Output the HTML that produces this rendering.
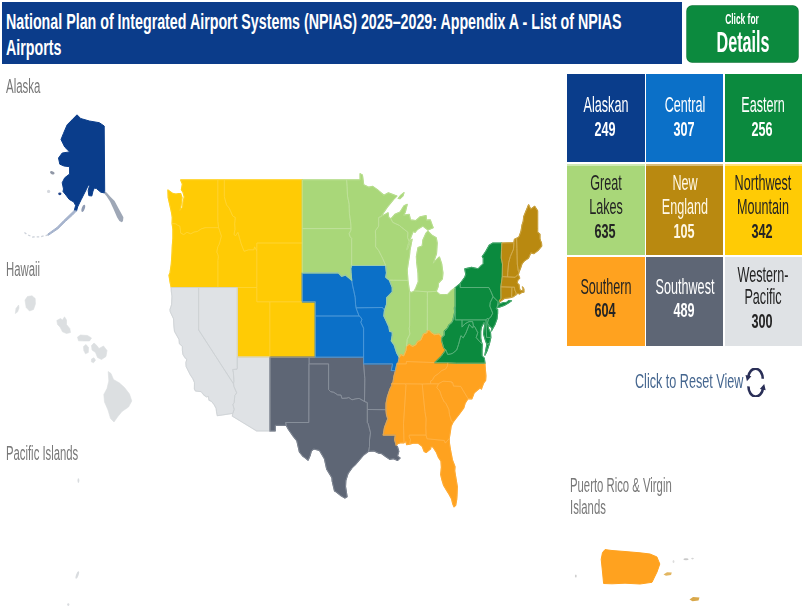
<!DOCTYPE html>
<html lang="en">
<head>
<meta charset="utf-8">
<title>NPIAS 2025-2029 Appendix A - List of NPIAS Airports</title>
<style>
  html, body { margin:0; padding:0; }
  body { width:802px; height:607px; overflow:hidden; background:#ffffff; position:relative;
         font-family:"Liberation Sans", sans-serif; }
  #clip { position:absolute; left:0; top:0; width:802px; height:607px; overflow:hidden; background:#ffffff; }
  #stage { position:absolute; left:0; top:0; width:802px; height:607px; filter:blur(0.5px); }
  .abs { position:absolute; }
  .tx { position:absolute; white-space:nowrap; line-height:1; }
  .tl { transform-origin:0 0; }
  .tc { transform-origin:50% 0; text-align:center; }
  #hdr { left:2px; top:2px; width:680px; height:62px; background:#0b3c8a; }
  #btn { left:686.6px; top:5.6px; width:111.8px; height:56.8px; background:#0c8a3e; border-radius:5px;
         box-shadow:0 0 0 0.7px #0a7534; }
</style>
</head>
<body>
<div id="clip">
<div id="stage">
  <div id="hdr" class="abs"></div>
  <div class="tx tl" style="left:6.4px; top:9.9px; font-size:22.8px; font-weight:bold; color:#ffffff; transform:scaleX(0.625);">National Plan of Integrated Airport Systems (NPIAS) 2025–2029: Appendix A - List of NPIAS</div>
  <div class="tx tl" style="left:6.4px; top:36.4px; font-size:22.8px; font-weight:bold; color:#ffffff; transform:scaleX(0.625);">Airports</div>
  <div id="btn" class="abs"></div>
  <div class="tx tc" style="left:592.0px; width:300px; top:11.5px; font-size:14.7px; font-weight:bold; color:#ffffff; transform:scaleX(0.573);">Click for</div>
  <div class="tx tc" style="left:593.0px; width:300px; top:27.1px; font-size:30.2px; font-weight:bold; color:#ffffff; transform:scaleX(0.535);">Details</div>
  <div class="tx tl" style="left:6.3px; top:75.6px; font-size:20px; font-weight:normal; color:#787878; transform:scaleX(0.572);">Alaska</div>
  <div class="tx tl" style="left:6.3px; top:259.3px; font-size:20px; font-weight:normal; color:#787878; transform:scaleX(0.567);">Hawaii</div>
  <div class="tx tl" style="left:6.3px; top:442.8px; font-size:20px; font-weight:normal; color:#787878; transform:scaleX(0.565);">Pacific Islands</div>
  <div class="tx tl" style="left:570.2px; top:475.4px; font-size:20px; font-weight:normal; color:#787878; transform:scaleX(0.566);">Puerto Rico &amp; Virgin</div>
  <div class="tx tl" style="left:570.2px; top:496.6px; font-size:20px; font-weight:normal; color:#787878; transform:scaleX(0.566);">Islands</div>
  <div class="abs" style="left:567.0px; top:74.0px; width:78.0px; height:88.4px; background-color:#0a3d8b;"></div>
  <div class="tx tc" style="left:456.0px; width:300px; top:93.7px; font-size:21.9px; font-weight:normal; color:#ffffff; transform:scaleX(0.576);">Alaskan</div>
  <div class="tx tc" style="left:455.0px; width:300px; top:118.7px; font-size:20.6px; font-weight:bold; color:#ffffff; transform:scaleX(0.614);">249</div>
  <div class="abs" style="left:646.2px; top:74.0px; width:77.2px; height:88.4px; background-color:#0b70c8;"></div>
  <div class="tx tc" style="left:534.8px; width:300px; top:93.7px; font-size:21.9px; font-weight:normal; color:#ffffff; transform:scaleX(0.576);">Central</div>
  <div class="tx tc" style="left:533.8px; width:300px; top:118.7px; font-size:20.6px; font-weight:bold; color:#ffffff; transform:scaleX(0.614);">307</div>
  <div class="abs" style="left:724.6px; top:74.0px; width:83.4px; height:88.4px; background-color:#0b8a3e;"></div>
  <div class="tx tc" style="left:613.3px; width:300px; top:93.7px; font-size:21.9px; font-weight:normal; color:#ffffff; transform:scaleX(0.576);">Eastern</div>
  <div class="tx tc" style="left:612.3px; width:300px; top:118.7px; font-size:20.6px; font-weight:bold; color:#ffffff; transform:scaleX(0.614);">256</div>
  <div class="abs" style="left:567.0px; top:163.8px; width:78.0px; height:91.4px; background-color:#a9d779; background-image:linear-gradient(rgba(255,255,255,.45),rgba(255,255,255,.45)); background-size:100% 2.4px; background-repeat:no-repeat;"></div>
  <div class="tx tc" style="left:456.0px; width:300px; top:172.4px; font-size:21.9px; font-weight:normal; color:#242424; transform:scaleX(0.576);">Great</div>
  <div class="tx tc" style="left:456.0px; width:300px; top:196.4px; font-size:21.9px; font-weight:normal; color:#242424; transform:scaleX(0.576);">Lakes</div>
  <div class="tx tc" style="left:455.0px; width:300px; top:221.4px; font-size:20.6px; font-weight:bold; color:#242424; transform:scaleX(0.614);">635</div>
  <div class="abs" style="left:646.2px; top:163.8px; width:77.2px; height:91.4px; background-color:#b98910; background-image:linear-gradient(rgba(255,255,255,.45),rgba(255,255,255,.45)); background-size:100% 2.4px; background-repeat:no-repeat;"></div>
  <div class="tx tc" style="left:534.8px; width:300px; top:172.4px; font-size:21.9px; font-weight:normal; color:#fff8e6; transform:scaleX(0.576);">New</div>
  <div class="tx tc" style="left:534.8px; width:300px; top:196.4px; font-size:21.9px; font-weight:normal; color:#fff8e6; transform:scaleX(0.576);">England</div>
  <div class="tx tc" style="left:533.8px; width:300px; top:221.4px; font-size:20.6px; font-weight:bold; color:#fff8e6; transform:scaleX(0.614);">105</div>
  <div class="abs" style="left:724.6px; top:163.8px; width:83.4px; height:91.4px; background-color:#ffcb05; background-image:linear-gradient(rgba(255,255,255,.45),rgba(255,255,255,.45)); background-size:100% 2.4px; background-repeat:no-repeat;"></div>
  <div class="tx tc" style="left:613.3px; width:300px; top:172.4px; font-size:21.9px; font-weight:normal; color:#242424; transform:scaleX(0.576);">Northwest</div>
  <div class="tx tc" style="left:613.3px; width:300px; top:196.4px; font-size:21.9px; font-weight:normal; color:#242424; transform:scaleX(0.576);">Mountain</div>
  <div class="tx tc" style="left:612.3px; width:300px; top:221.4px; font-size:20.6px; font-weight:bold; color:#242424; transform:scaleX(0.614);">342</div>
  <div class="abs" style="left:567.0px; top:256.6px; width:78.0px; height:89.4px; background-color:#ffa21f;"></div>
  <div class="tx tc" style="left:456.0px; width:300px; top:276.4px; font-size:21.9px; font-weight:normal; color:#242424; transform:scaleX(0.576);">Southern</div>
  <div class="tx tc" style="left:455.0px; width:300px; top:300.0px; font-size:20.6px; font-weight:bold; color:#242424; transform:scaleX(0.614);">604</div>
  <div class="abs" style="left:646.2px; top:256.6px; width:77.2px; height:89.4px; background-color:#5e6675;"></div>
  <div class="tx tc" style="left:534.8px; width:300px; top:276.4px; font-size:21.9px; font-weight:normal; color:#ffffff; transform:scaleX(0.576);">Southwest</div>
  <div class="tx tc" style="left:533.8px; width:300px; top:300.0px; font-size:20.6px; font-weight:bold; color:#ffffff; transform:scaleX(0.614);">489</div>
  <div class="abs" style="left:724.6px; top:256.6px; width:83.4px; height:89.4px; background-color:#dfe2e5;"></div>
  <div class="tx tc" style="left:613.3px; width:300px; top:263.9px; font-size:21.9px; font-weight:normal; color:#242424; transform:scaleX(0.576);">Western-</div>
  <div class="tx tc" style="left:613.3px; width:300px; top:285.8px; font-size:21.9px; font-weight:normal; color:#242424; transform:scaleX(0.576);">Pacific</div>
  <div class="tx tc" style="left:612.3px; width:300px; top:311.2px; font-size:20.6px; font-weight:bold; color:#242424; transform:scaleX(0.614);">300</div>
  <div class="tx tl" style="left:635.3px; top:371.0px; font-size:20.8px; font-weight:normal; color:#45668f; transform:scaleX(0.606);">Click to Reset View</div>
  <svg class="abs" style="left:745.1px; top:368.2px;" width="21.2" height="29.2" viewBox="0 0 24 34" preserveAspectRatio="none">
  <g fill="none" stroke="#2a2f57" stroke-width="2.9">
    <path d="M3.6 10.6 A8.3 11.6 0 0 1 20.1 12.6"/>
    <path d="M20.4 23.4 A8.3 11.6 0 0 1 3.9 21.4"/>
  </g>
  <path d="M0.6 8.2 L7.2 9.6 L2.2 15.4 Z" fill="#2a2f57"/>
  <path d="M23.4 25.8 L16.8 24.4 L21.8 18.6 Z" fill="#2a2f57"/>
</svg>
  <!-- map -->
  <svg class="abs" style="left:0; top:0;" width="802" height="607" viewBox="0 0 802 607">
<path d="M180.7,179.9L182.4,184.0L181.4,189.7L183.0,192.1L184.3,196.9L183.0,202.5L182.7,207.3L179.8,210.5L181.0,205.7L182.0,197.7L180.7,193.7L178.5,193.7L175.9,194.0L172.6,193.4L167.9,190.0L168.2,197.7L170.0,205.7L171.6,212.8L172.3,217.5L172.1,223.5L175.9,223.8L177.8,225.3L179.8,226.1L180.4,230.0L180.7,233.1L183.7,234.6L186.9,232.3L190.8,233.8L194.0,232.0L197.3,231.5L201.2,228.9L205.1,227.7L218.6,227.7L217.8,221.1L217.8,179.9Z M172.1,223.5L175.9,223.8L177.8,225.3L179.8,226.1L180.4,230.0L180.7,233.1L183.7,234.6L186.9,232.3L190.8,233.8L194.0,232.0L197.3,231.5L201.2,228.9L205.1,227.7L218.6,227.7L219.7,230.8L221.4,236.1L220.0,241.5L219.1,244.5L217.8,246.8L216.8,252.1L217.8,254.3L218.4,256.6L217.9,260.6L217.9,287.5L171.2,287.5L170.0,281.7L169.0,275.2L170.0,272.9L171.3,264.0L172.0,253.6L172.3,246.0L172.9,238.4L172.9,229.2Z M217.8,179.9L224.3,179.9L224.3,196.6L226.5,204.9L229.2,208.1L232.7,216.0L235.3,217.5L234.7,223.8L235.0,229.2L234.0,234.6L235.7,235.7L237.9,232.3L241.2,243.8L244.1,251.3L248.7,249.8L253.9,249.8L254.6,246.8L256.8,250.9L256.8,287.5L217.9,287.5L217.9,260.6L218.4,256.6L217.8,254.3L216.8,252.1L217.8,246.8L219.1,244.5L220.0,241.5L221.4,236.1L219.7,230.8L218.6,227.7L217.8,221.1Z M224.3,179.9L302.3,179.9L302.3,243.0L256.8,243.0L256.8,250.9L254.6,246.8L253.9,249.8L248.7,249.8L244.1,251.3L241.2,243.8L237.9,232.3L235.7,235.7L234.0,234.6L235.0,229.2L234.7,223.8L235.3,217.5L232.7,216.0L229.2,208.1L226.5,204.9L224.3,196.6Z M256.8,243.0L302.3,243.0L302.3,301.8L256.8,301.8Z M237.3,287.5L256.8,287.5L256.8,301.8L269.8,301.8L269.8,357.2L237.3,357.2Z M269.8,301.8L315.3,301.8L315.3,357.2L269.8,357.2Z" fill="#ffcb05" stroke="#ffcb05" stroke-width="1.2" stroke-linejoin="round"/>
<path d="M171.2,287.5L198.6,287.5L198.6,329.9L233.5,383.8L233.9,386.4L236.7,392.9L234.8,395.5L234.2,402.6L232.9,404.6L234.2,409.3L232.9,413.3L217.3,415.7L216.5,411.6L216.2,408.4L214.2,404.6L211.6,401.4L209.0,400.1L208.4,396.4L206.4,396.8L203.8,394.9L201.2,391.6L195.5,391.0L194.4,389.0L194.5,382.5L192.8,378.5L190.2,374.6L186.2,366.6L185.9,362.6L186.9,359.2L185.0,357.7L183.0,354.5L182.4,350.4L182.4,346.4L179.4,343.6L179.1,339.5L174.5,331.3L173.9,325.7L173.6,318.8L170.3,311.8L170.0,309.6L171.6,304.7L172.0,296.1L171.3,291.1Z M198.6,287.5L237.3,287.5L237.3,367.9L237.0,369.2L232.7,369.5L233.4,372.6L233.9,381.2L233.5,383.8L198.6,329.9Z M237.3,357.2L269.8,357.2L269.8,430.9L256.6,430.9L232.3,416.1L232.9,413.3L234.2,409.3L232.9,404.6L234.2,402.6L234.8,395.5L236.7,392.9L233.9,386.4L233.5,383.8L233.9,381.2L233.4,372.6L232.7,369.5L237.0,369.2L237.3,367.9Z" fill="#dfe2e5" stroke="#dfe2e5" stroke-width="1.2" stroke-linejoin="round"/>
<path d="M269.8,357.2L309.1,357.2L309.1,363.9L308.8,422.5L285.6,422.5L286.2,425.3L275.2,425.3L275.2,430.9L269.8,430.9Z M308.8,363.9L328.6,363.9L328.6,389.5L330.5,391.6L333.8,392.3L337.7,394.9L341.0,395.1L341.9,398.4L346.8,398.1L348.8,397.5L352.0,399.8L355.9,398.8L359.2,398.4L364.5,401.5L367.3,402.6L367.3,409.5L367.3,422.5L368.2,423.7L370.5,432.8L369.5,440.1L369.5,446.3L368.6,451.3L363.0,455.6L360.5,458.7L355.2,464.8L352.0,467.9L348.1,473.4L345.8,480.6L345.5,486.7L347.1,496.8L344.9,498.1L341.0,495.7L336.4,492.1L334.5,490.9L332.2,481.2L331.9,477.6L326.7,469.1L324.4,458.7L319.5,450.4L313.7,449.0L311.4,450.9L310.1,455.6L308.1,460.2L305.5,458.1L302.6,456.0L299.4,451.9L296.8,440.7L293.5,436.6L288.3,429.2L286.2,425.3L285.6,422.5L308.8,422.5Z M309.1,357.2L363.6,357.2L363.6,363.9L364.8,378.5L364.5,401.5L364.5,401.5L359.2,398.4L355.9,398.8L352.0,399.8L348.8,397.5L346.8,398.1L341.9,398.4L341.0,395.1L337.7,394.9L333.8,392.3L330.5,391.6L328.6,389.5L328.6,363.9L309.1,363.9Z M363.6,363.9L392.6,363.9L391.2,370.6L395.5,370.6L393.9,376.5L393.0,382.5L391.7,383.8L391.7,385.7L390.0,389.0L387.4,396.8L386.1,403.3L386.0,409.7L367.3,409.5L367.3,402.6L364.5,401.5L364.8,378.5Z M367.3,409.5L386.0,409.7L386.5,414.8L387.8,418.7L384.5,427.5L383.2,435.1L395.4,435.1L394.6,439.5L396.2,445.3L397.5,446.9L398.8,451.3L397.5,456.2L400.1,458.1L397.5,460.5L393.6,458.7L389.7,459.3L385.2,456.2L381.9,453.7L378.7,453.1L374.1,450.9L368.6,451.3L369.5,446.3L369.5,440.1L370.5,432.8L368.2,423.7L367.3,422.5Z" fill="#5e6675" stroke="#5e6675" stroke-width="1.2" stroke-linejoin="round"/>
<path d="M302.3,272.9L338.4,272.9L341.6,276.3L345.5,275.1L350.0,278.8L351.7,280.4L352.7,286.0L354.0,291.8L355.2,297.6L355.6,304.7L356.1,307.8L356.9,310.3L359.1,316.0L315.3,316.0L315.3,301.8L302.3,301.8Z M315.3,316.0L359.1,316.0L361.1,317.7L361.9,319.5L360.8,322.3L363.6,328.2L363.6,357.2L315.3,357.2Z M351.7,265.5L385.7,265.5L386.5,272.9L385.8,277.3L389.4,280.2L392.3,287.5L392.3,291.8L389.7,294.7L386.8,297.6L386.5,304.7L384.5,310.3L382.5,307.5L356.1,307.8L355.6,304.7L355.2,297.6L354.0,291.8L352.7,286.0L351.7,280.4L351.0,272.9L350.7,268.5Z M356.1,307.8L382.5,307.5L384.5,310.3L383.9,316.0L386.5,321.6L389.0,327.1L389.7,331.3L392.3,332.0L392.3,335.4L391.3,340.9L394.2,345.0L396.9,353.2L399.3,357.5L398.2,362.6L396.9,363.9L395.5,370.6L391.2,370.6L392.6,363.9L363.6,363.9L363.6,357.2L363.6,328.2L360.8,322.3L361.9,319.5L361.1,317.7L359.1,316.0L356.9,310.3Z" fill="#0b70c8" stroke="#0b70c8" stroke-width="1.2" stroke-linejoin="round"/>
<path d="M302.3,179.9L346.6,179.9L347.1,186.4L347.5,196.1L349.1,204.1L349.4,213.6L350.7,223.0L351.0,228.6L302.3,228.6Z M302.3,228.6L351.0,228.6L350.8,230.4L349.1,233.8L350.2,236.9L351.7,238.4L351.7,265.5L350.7,268.5L351.0,272.9L351.7,280.4L350.0,278.8L345.5,275.1L341.6,276.3L338.4,272.9L302.3,272.9Z M346.6,179.9L360.1,179.9L360.1,173.7L362.4,175.0L363.7,184.8L368.9,187.2L372.8,186.4L377.4,189.7L383.9,195.3L388.4,192.9L396.9,196.1L393.6,199.3L387.1,207.3L380.6,216.8L378.7,217.4L378.7,226.1L375.4,230.8L375.7,238.4L375.7,246.8L378.7,250.6L382.5,258.1L385.7,265.5L351.7,265.5L351.7,238.4L350.2,236.9L349.1,233.8L350.8,230.4L351.0,228.6L350.7,223.0L349.4,213.6L349.1,204.1L347.5,196.1L347.1,186.4Z M378.7,217.4L380.5,216.8L385.8,214.1L388.1,212.8L388.7,217.5L390.9,218.8L392.8,222.4L399.5,225.5L401.4,227.2L406.0,230.8L407.9,232.3L407.6,237.7L409.2,241.5L408.2,243.8L406.6,249.8L407.9,248.8L410.5,241.2L412.1,239.2L410.8,246.0L409.9,250.6L409.5,255.1L408.5,261.1L407.2,270.0L407.9,280.4L389.4,280.2L389.4,280.2L385.8,277.3L386.5,272.9L385.7,265.5L382.5,258.1L378.7,250.6L375.7,246.8L375.7,238.4L375.4,230.8L378.7,226.1Z M414.3,290.9L427.4,291.8L436.2,291.4L438.1,286.8L438.5,283.1L442.4,278.8L442.9,272.9L441.7,264.0L439.4,257.0L436.5,259.6L433.2,263.3L436.5,253.6L437.2,243.0L436.2,237.7L432.0,235.4L427.9,231.1L426.1,233.1L422.9,240.0L422.2,246.0L418.0,247.6L416.4,256.6L416.7,262.5L418.0,272.9L418.3,281.7L416.0,287.5Z M390.9,218.8L394.9,214.4L400.1,212.0L404.0,205.7L407.2,204.4L405.3,212.0L403.7,215.2L409.2,214.4L410.5,219.9L415.7,220.7L420.2,216.8L426.1,215.7L426.4,220.2L430.3,219.9L432.0,224.6L433.2,227.7L428.0,230.0L422.9,226.1L417.7,229.2L415.0,232.3L413.1,231.5L409.2,241.5L407.6,237.7L407.9,232.3L406.0,230.8L401.4,227.2L399.5,225.5L392.8,222.4L390.9,218.8Z M398.2,198.5L400.8,195.2L404.0,192.6L403.0,195.8L400.1,198.7Z M389.4,280.2L407.9,280.4L409.2,289.6L409.7,291.8L409.7,325.1L409.2,328.5L409.9,334.0L407.2,339.5L406.6,346.4L406.0,350.4L403.7,355.9L400.8,354.5L399.3,357.5L396.9,353.2L394.2,345.0L391.3,340.9L392.3,335.4L392.3,332.0L389.7,331.3L389.0,327.1L386.5,321.6L383.9,316.0L384.5,310.3L386.5,304.7L386.8,297.6L389.7,294.7L392.3,291.8L392.3,287.5L389.4,280.2L389.4,280.2Z M409.7,291.8L411.8,292.5L414.3,290.9L427.4,291.8L427.3,330.6L427.1,332.7L423.5,334.0L420.9,340.0L417.7,341.6L415.7,345.0L412.5,346.4L409.2,344.3L406.6,346.4L407.2,339.5L409.9,334.0L409.2,328.5L409.7,325.1Z M427.4,291.8L436.2,291.4L439.1,294.0L441.0,294.7L445.6,294.7L447.5,294.7L450.8,291.1L455.2,287.8L455.2,306.9L454.4,307.8L454.7,312.5L453.1,319.5L452.1,322.3L448.9,325.1L447.2,328.5L444.3,331.3L444.3,335.4L441.7,337.5L439.1,334.0L434.5,334.7L431.3,332.7L429.4,330.6L427.3,330.6Z" fill="#a9d779" stroke="#a9d779" stroke-width="1.2" stroke-linejoin="round"/>
<path d="M396.9,363.9L398.2,362.6L399.3,357.5L400.8,354.5L403.7,355.9L406.0,350.4L406.6,346.4L409.2,344.3L412.5,346.4L415.7,345.0L417.7,341.6L420.9,340.0L423.5,334.0L427.1,332.7L427.3,330.6L429.4,330.6L431.3,332.7L434.5,334.7L439.1,334.0L441.7,337.5L441.7,340.9L443.7,347.7L445.8,349.9L441.0,356.5L434.7,362.6L406.3,361.5L406.3,363.9Z M391.7,383.8L393.0,382.5L393.9,376.5L395.5,370.6L396.9,363.9L406.3,363.9L406.3,361.5L434.7,362.6L447.7,362.7L447.5,365.9L445.6,369.0L441.7,370.6L438.5,373.6L434.5,376.3L432.3,380.2L430.7,380.9L430.5,383.8L422.2,384.0L405.3,383.8Z M430.5,383.8L438.5,383.8L443.0,381.2L451.8,381.8L451.8,383.1L452.6,382.5L453.5,386.1L460.7,386.4L468.0,398.6L471.9,398.8L474.2,392.9L480.1,387.7L481.4,389.0L483.6,383.1L485.6,380.5L485.9,375.9L485.2,367.9L484.9,363.2L456.7,363.2L447.7,362.7L447.5,365.9L445.6,369.0L441.7,370.6L438.5,373.6L434.5,376.3L432.3,380.2L430.7,380.9L430.5,383.8Z M438.5,383.8L443.0,381.2L451.8,381.8L451.8,383.1L452.6,382.5L453.5,386.1L460.7,386.4L468.0,398.6L465.1,403.3L463.8,407.8L459.2,414.2L455.7,418.7L453.1,422.1L451.5,421.2L449.5,414.8L448.9,409.7L445.9,403.3L444.3,402.0L441.7,396.8L439.8,391.0L436.8,387.7L438.5,383.8Z M422.2,384.0L438.5,383.8L436.8,387.7L439.8,391.0L441.7,396.8L444.3,402.0L445.9,403.3L448.9,409.7L449.5,414.8L451.5,421.2L453.1,422.1L451.1,426.3L450.2,432.6L449.2,438.6L445.3,443.1L444.3,440.5L427.0,438.8L426.1,435.1L425.8,427.5L426.1,418.7L424.9,411.4Z M405.3,383.8L422.2,384.0L424.9,411.4L426.1,418.7L425.8,427.5L426.1,435.1L409.2,435.1L409.2,437.0L410.5,439.5L409.7,444.1L406.6,444.7L406.0,441.3L404.0,442.8L403.5,423.7L406.0,385.1Z M383.2,435.1L384.5,427.5L387.8,418.7L386.5,414.8L386.0,409.7L386.1,403.3L387.4,396.8L390.0,389.0L391.7,385.7L391.7,383.8L405.3,383.8L406.0,385.1L403.5,423.7L404.0,442.8L400.8,442.6L397.5,443.8L396.2,445.3L394.6,439.5L395.4,435.1Z M409.2,435.1L426.1,435.1L427.0,438.8L444.3,440.5L445.3,443.1L449.2,438.6L449.5,443.8L450.5,450.0L452.4,459.9L455.0,466.7L454.7,470.9L456.3,480.6L457.3,486.7L457.0,495.1L456.7,499.3L455.7,505.2L454.0,506.8L452.8,504.0L451.5,498.7L448.9,493.9L446.2,489.7L443.7,485.5L442.0,480.0L440.7,474.6L441.4,467.3L441.0,461.1L438.5,457.4L436.5,452.5L432.9,446.9L430.3,446.9L430.7,448.8L426.1,452.5L424.2,451.5L422.2,446.3L418.3,443.2L413.1,443.2L409.7,444.1L410.5,439.5L409.2,437.0Z" fill="#ffa21f" stroke="#ffa21f" stroke-width="1.2" stroke-linejoin="round"/>
<path d="M460.2,287.5L460.2,283.6L464.8,277.3L465.8,274.4L464.8,268.9L471.6,267.4L478.1,268.8L481.4,265.5L483.3,264.0L483.3,258.1L482.3,256.6L485.9,251.3L489.2,245.3L492.9,243.0L501.8,243.0L501.5,250.6L501.3,258.1L502.5,264.0L502.3,276.6L500.9,286.8L501.0,298.8L499.4,300.4L499.8,301.8L498.2,304.7L497.3,306.1L498.2,301.8L493.1,296.7L490.6,290.8L488.8,287.5Z M497.3,307.2L499.2,307.2L504.1,305.5L508.0,303.3L511.5,300.8L508.7,300.7L506.7,302.3L503.5,302.5L499.6,304.0L498.1,305.0Z M455.2,306.9L455.2,287.8L460.2,283.6L460.2,287.5L488.8,287.5L490.6,290.8L493.1,296.7L490.3,302.3L489.8,306.1L492.7,313.2L490.5,317.4L488.5,318.8L487.2,318.4L486.0,319.9L455.2,319.9Z M493.1,296.7L490.3,302.3L489.8,306.1L492.7,313.2L490.5,317.4L488.5,318.8L487.5,323.0L489.2,325.7L491.8,327.8L491.4,330.9L495.0,324.4L497.0,318.8L497.6,313.2L497.6,309.4L496.0,308.9L497.3,306.1L498.2,301.8Z M486.0,319.9L487.2,318.4L488.5,318.8L487.5,323.0L488.5,328.5L490.5,332.7L490.8,337.5L486.6,337.4Z M462.0,319.9L486.0,319.9L486.6,337.4L490.8,337.5L489.5,343.2L486.9,344.3L485.6,340.9L483.6,334.0L484.0,329.9L484.9,324.4L484.0,322.3L481.4,327.1L480.7,331.3L480.7,338.2L481.7,343.0L482.3,344.3L478.4,340.2L476.2,337.5L477.8,332.7L476.5,330.2L474.9,327.1L473.4,325.5L472.6,321.6L469.0,321.6L465.1,323.7L462.0,327.1Z M434.7,362.6L441.0,356.5L445.8,349.9L447.7,354.5L450.6,354.0L452.8,353.2L456.7,350.0L458.6,344.3L460.9,335.7L463.2,337.9L465.9,333.1L469.3,324.4L472.7,328.1L473.4,325.5L474.9,327.1L476.5,330.2L477.8,332.7L476.2,337.5L478.4,340.2L482.3,344.3L482.0,349.8L482.0,355.9L484.3,358.1L484.9,363.2L456.7,363.2L447.7,362.7Z M484.9,355.2L486.9,344.3L489.5,343.2L487.2,350.4Z M441.7,337.5L444.3,335.4L444.3,331.3L447.2,328.5L448.9,325.1L452.1,322.3L453.1,319.5L454.7,312.5L454.4,307.8L455.2,306.9L455.2,319.9L462.0,319.9L462.0,327.1L465.1,323.7L469.0,321.6L472.6,321.6L473.4,325.5L473.4,325.5L472.7,328.1L469.3,324.4L465.9,333.1L463.2,337.9L460.9,335.7L458.6,344.3L456.7,350.0L452.8,353.2L450.6,354.0L447.7,354.5L445.8,349.9L443.7,347.7L441.7,340.9Z" fill="#0b8a3e" stroke="#0b8a3e" stroke-width="1.2" stroke-linejoin="round"/>
<path d="M516.6,238.4L519.0,236.9L521.0,231.5L522.0,225.3L523.3,221.1L523.7,216.8L528.6,204.8L530.8,209.2L534.7,206.3L537.6,210.9L537.6,228.7L537.6,232.3L539.9,234.1L539.9,238.7L540.5,240.7L541.5,243.0L541.7,246.0L537.9,250.6L534.0,253.6L530.8,252.8L528.5,258.1L524.2,261.1L522.0,263.7L520.4,268.5L519.0,271.9L518.3,271.1L517.3,264.0L516.9,248.3Z M513.9,242.8L514.5,239.2L516.6,238.4L516.9,248.3L517.3,264.0L518.3,271.1L519.0,271.9L518.3,274.8L517.8,274.7L515.2,277.3L507.6,276.9L507.7,272.9L508.7,262.5L510.3,256.6L513.5,249.1Z M501.8,243.0L513.9,242.8L513.5,249.1L510.3,256.6L508.7,262.5L507.7,272.9L507.6,276.9L502.3,276.6L502.5,264.0L501.3,258.1L501.5,250.6Z M502.3,276.6L507.6,276.9L515.2,277.3L517.8,274.7L518.3,274.8L519.7,278.0L517.8,280.2L517.1,283.1L519.0,284.6L519.4,288.2L520.4,290.7L523.0,290.7L523.0,287.5L522.3,287.0L523.8,288.9L523.9,292.1L521.7,292.4L519.4,294.0L517.8,293.2L516.3,294.7L515.8,292.1L515.0,290.7L514.6,288.9L514.6,287.2L511.9,287.2L500.9,286.8Z M511.9,287.2L514.6,287.2L514.6,288.9L515.0,290.7L515.8,292.1L516.3,294.7L514.5,295.4L513.9,296.5L511.6,297.3Z M500.9,286.8L511.9,287.2L511.6,297.3L508.0,298.0L504.8,298.3L502.2,300.1L499.8,301.8L499.4,300.4L501.0,298.8Z" fill="#b98910" stroke="#b98910" stroke-width="1.2" stroke-linejoin="round"/>
<path d="M180.7,179.9L182.4,184.0L181.4,189.7L183.0,192.1L184.3,196.9L183.0,202.5L182.7,207.3L179.8,210.5L181.0,205.7L182.0,197.7L180.7,193.7L178.5,193.7L175.9,194.0L172.6,193.4L167.9,190.0L168.2,197.7L170.0,205.7L171.6,212.8L172.3,217.5L172.1,223.5L175.9,223.8L177.8,225.3L179.8,226.1L180.4,230.0L180.7,233.1L183.7,234.6L186.9,232.3L190.8,233.8L194.0,232.0L197.3,231.5L201.2,228.9L205.1,227.7L218.6,227.7L217.8,221.1L217.8,179.9Z M172.1,223.5L175.9,223.8L177.8,225.3L179.8,226.1L180.4,230.0L180.7,233.1L183.7,234.6L186.9,232.3L190.8,233.8L194.0,232.0L197.3,231.5L201.2,228.9L205.1,227.7L218.6,227.7L219.7,230.8L221.4,236.1L220.0,241.5L219.1,244.5L217.8,246.8L216.8,252.1L217.8,254.3L218.4,256.6L217.9,260.6L217.9,287.5L171.2,287.5L170.0,281.7L169.0,275.2L170.0,272.9L171.3,264.0L172.0,253.6L172.3,246.0L172.9,238.4L172.9,229.2Z M217.8,179.9L224.3,179.9L224.3,196.6L226.5,204.9L229.2,208.1L232.7,216.0L235.3,217.5L234.7,223.8L235.0,229.2L234.0,234.6L235.7,235.7L237.9,232.3L241.2,243.8L244.1,251.3L248.7,249.8L253.9,249.8L254.6,246.8L256.8,250.9L256.8,287.5L217.9,287.5L217.9,260.6L218.4,256.6L217.8,254.3L216.8,252.1L217.8,246.8L219.1,244.5L220.0,241.5L221.4,236.1L219.7,230.8L218.6,227.7L217.8,221.1Z M224.3,179.9L302.3,179.9L302.3,243.0L256.8,243.0L256.8,250.9L254.6,246.8L253.9,249.8L248.7,249.8L244.1,251.3L241.2,243.8L237.9,232.3L235.7,235.7L234.0,234.6L235.0,229.2L234.7,223.8L235.3,217.5L232.7,216.0L229.2,208.1L226.5,204.9L224.3,196.6Z M256.8,243.0L302.3,243.0L302.3,301.8L256.8,301.8Z M237.3,287.5L256.8,287.5L256.8,301.8L269.8,301.8L269.8,357.2L237.3,357.2Z M269.8,301.8L315.3,301.8L315.3,357.2L269.8,357.2Z" fill="none" stroke="#ffd640" stroke-width="0.8" stroke-linejoin="round" opacity="0.6"/>
<path d="M171.2,287.5L198.6,287.5L198.6,329.9L233.5,383.8L233.9,386.4L236.7,392.9L234.8,395.5L234.2,402.6L232.9,404.6L234.2,409.3L232.9,413.3L217.3,415.7L216.5,411.6L216.2,408.4L214.2,404.6L211.6,401.4L209.0,400.1L208.4,396.4L206.4,396.8L203.8,394.9L201.2,391.6L195.5,391.0L194.4,389.0L194.5,382.5L192.8,378.5L190.2,374.6L186.2,366.6L185.9,362.6L186.9,359.2L185.0,357.7L183.0,354.5L182.4,350.4L182.4,346.4L179.4,343.6L179.1,339.5L174.5,331.3L173.9,325.7L173.6,318.8L170.3,311.8L170.0,309.6L171.6,304.7L172.0,296.1L171.3,291.1Z M198.6,287.5L237.3,287.5L237.3,367.9L237.0,369.2L232.7,369.5L233.4,372.6L233.9,381.2L233.5,383.8L198.6,329.9Z M237.3,357.2L269.8,357.2L269.8,430.9L256.6,430.9L232.3,416.1L232.9,413.3L234.2,409.3L232.9,404.6L234.2,402.6L234.8,395.5L236.7,392.9L233.9,386.4L233.5,383.8L233.9,381.2L233.4,372.6L232.7,369.5L237.0,369.2L237.3,367.9Z" fill="none" stroke="#cbcfd3" stroke-width="0.8" stroke-linejoin="round" opacity="0.9"/>
<path d="M269.8,357.2L309.1,357.2L309.1,363.9L308.8,422.5L285.6,422.5L286.2,425.3L275.2,425.3L275.2,430.9L269.8,430.9Z M308.8,363.9L328.6,363.9L328.6,389.5L330.5,391.6L333.8,392.3L337.7,394.9L341.0,395.1L341.9,398.4L346.8,398.1L348.8,397.5L352.0,399.8L355.9,398.8L359.2,398.4L364.5,401.5L367.3,402.6L367.3,409.5L367.3,422.5L368.2,423.7L370.5,432.8L369.5,440.1L369.5,446.3L368.6,451.3L363.0,455.6L360.5,458.7L355.2,464.8L352.0,467.9L348.1,473.4L345.8,480.6L345.5,486.7L347.1,496.8L344.9,498.1L341.0,495.7L336.4,492.1L334.5,490.9L332.2,481.2L331.9,477.6L326.7,469.1L324.4,458.7L319.5,450.4L313.7,449.0L311.4,450.9L310.1,455.6L308.1,460.2L305.5,458.1L302.6,456.0L299.4,451.9L296.8,440.7L293.5,436.6L288.3,429.2L286.2,425.3L285.6,422.5L308.8,422.5Z M309.1,357.2L363.6,357.2L363.6,363.9L364.8,378.5L364.5,401.5L364.5,401.5L359.2,398.4L355.9,398.8L352.0,399.8L348.8,397.5L346.8,398.1L341.9,398.4L341.0,395.1L337.7,394.9L333.8,392.3L330.5,391.6L328.6,389.5L328.6,363.9L309.1,363.9Z M363.6,363.9L392.6,363.9L391.2,370.6L395.5,370.6L393.9,376.5L393.0,382.5L391.7,383.8L391.7,385.7L390.0,389.0L387.4,396.8L386.1,403.3L386.0,409.7L367.3,409.5L367.3,402.6L364.5,401.5L364.8,378.5Z M367.3,409.5L386.0,409.7L386.5,414.8L387.8,418.7L384.5,427.5L383.2,435.1L395.4,435.1L394.6,439.5L396.2,445.3L397.5,446.9L398.8,451.3L397.5,456.2L400.1,458.1L397.5,460.5L393.6,458.7L389.7,459.3L385.2,456.2L381.9,453.7L378.7,453.1L374.1,450.9L368.6,451.3L369.5,446.3L369.5,440.1L370.5,432.8L368.2,423.7L367.3,422.5Z" fill="none" stroke="#8b929e" stroke-width="0.8" stroke-linejoin="round" opacity="0.9"/>
<path d="M302.3,272.9L338.4,272.9L341.6,276.3L345.5,275.1L350.0,278.8L351.7,280.4L352.7,286.0L354.0,291.8L355.2,297.6L355.6,304.7L356.1,307.8L356.9,310.3L359.1,316.0L315.3,316.0L315.3,301.8L302.3,301.8Z M315.3,316.0L359.1,316.0L361.1,317.7L361.9,319.5L360.8,322.3L363.6,328.2L363.6,357.2L315.3,357.2Z M351.7,265.5L385.7,265.5L386.5,272.9L385.8,277.3L389.4,280.2L392.3,287.5L392.3,291.8L389.7,294.7L386.8,297.6L386.5,304.7L384.5,310.3L382.5,307.5L356.1,307.8L355.6,304.7L355.2,297.6L354.0,291.8L352.7,286.0L351.7,280.4L351.0,272.9L350.7,268.5Z M356.1,307.8L382.5,307.5L384.5,310.3L383.9,316.0L386.5,321.6L389.0,327.1L389.7,331.3L392.3,332.0L392.3,335.4L391.3,340.9L394.2,345.0L396.9,353.2L399.3,357.5L398.2,362.6L396.9,363.9L395.5,370.6L391.2,370.6L392.6,363.9L363.6,363.9L363.6,357.2L363.6,328.2L360.8,322.3L361.9,319.5L361.1,317.7L359.1,316.0L356.9,310.3Z" fill="none" stroke="#4f9ad9" stroke-width="0.8" stroke-linejoin="round" opacity="0.9"/>
<path d="M302.3,179.9L346.6,179.9L347.1,186.4L347.5,196.1L349.1,204.1L349.4,213.6L350.7,223.0L351.0,228.6L302.3,228.6Z M302.3,228.6L351.0,228.6L350.8,230.4L349.1,233.8L350.2,236.9L351.7,238.4L351.7,265.5L350.7,268.5L351.0,272.9L351.7,280.4L350.0,278.8L345.5,275.1L341.6,276.3L338.4,272.9L302.3,272.9Z M346.6,179.9L360.1,179.9L360.1,173.7L362.4,175.0L363.7,184.8L368.9,187.2L372.8,186.4L377.4,189.7L383.9,195.3L388.4,192.9L396.9,196.1L393.6,199.3L387.1,207.3L380.6,216.8L378.7,217.4L378.7,226.1L375.4,230.8L375.7,238.4L375.7,246.8L378.7,250.6L382.5,258.1L385.7,265.5L351.7,265.5L351.7,238.4L350.2,236.9L349.1,233.8L350.8,230.4L351.0,228.6L350.7,223.0L349.4,213.6L349.1,204.1L347.5,196.1L347.1,186.4Z M378.7,217.4L380.5,216.8L385.8,214.1L388.1,212.8L388.7,217.5L390.9,218.8L392.8,222.4L399.5,225.5L401.4,227.2L406.0,230.8L407.9,232.3L407.6,237.7L409.2,241.5L408.2,243.8L406.6,249.8L407.9,248.8L410.5,241.2L412.1,239.2L410.8,246.0L409.9,250.6L409.5,255.1L408.5,261.1L407.2,270.0L407.9,280.4L389.4,280.2L389.4,280.2L385.8,277.3L386.5,272.9L385.7,265.5L382.5,258.1L378.7,250.6L375.7,246.8L375.7,238.4L375.4,230.8L378.7,226.1Z M414.3,290.9L427.4,291.8L436.2,291.4L438.1,286.8L438.5,283.1L442.4,278.8L442.9,272.9L441.7,264.0L439.4,257.0L436.5,259.6L433.2,263.3L436.5,253.6L437.2,243.0L436.2,237.7L432.0,235.4L427.9,231.1L426.1,233.1L422.9,240.0L422.2,246.0L418.0,247.6L416.4,256.6L416.7,262.5L418.0,272.9L418.3,281.7L416.0,287.5Z M390.9,218.8L394.9,214.4L400.1,212.0L404.0,205.7L407.2,204.4L405.3,212.0L403.7,215.2L409.2,214.4L410.5,219.9L415.7,220.7L420.2,216.8L426.1,215.7L426.4,220.2L430.3,219.9L432.0,224.6L433.2,227.7L428.0,230.0L422.9,226.1L417.7,229.2L415.0,232.3L413.1,231.5L409.2,241.5L407.6,237.7L407.9,232.3L406.0,230.8L401.4,227.2L399.5,225.5L392.8,222.4L390.9,218.8Z M398.2,198.5L400.8,195.2L404.0,192.6L403.0,195.8L400.1,198.7Z M389.4,280.2L407.9,280.4L409.2,289.6L409.7,291.8L409.7,325.1L409.2,328.5L409.9,334.0L407.2,339.5L406.6,346.4L406.0,350.4L403.7,355.9L400.8,354.5L399.3,357.5L396.9,353.2L394.2,345.0L391.3,340.9L392.3,335.4L392.3,332.0L389.7,331.3L389.0,327.1L386.5,321.6L383.9,316.0L384.5,310.3L386.5,304.7L386.8,297.6L389.7,294.7L392.3,291.8L392.3,287.5L389.4,280.2L389.4,280.2Z M409.7,291.8L411.8,292.5L414.3,290.9L427.4,291.8L427.3,330.6L427.1,332.7L423.5,334.0L420.9,340.0L417.7,341.6L415.7,345.0L412.5,346.4L409.2,344.3L406.6,346.4L407.2,339.5L409.9,334.0L409.2,328.5L409.7,325.1Z M427.4,291.8L436.2,291.4L439.1,294.0L441.0,294.7L445.6,294.7L447.5,294.7L450.8,291.1L455.2,287.8L455.2,306.9L454.4,307.8L454.7,312.5L453.1,319.5L452.1,322.3L448.9,325.1L447.2,328.5L444.3,331.3L444.3,335.4L441.7,337.5L439.1,334.0L434.5,334.7L431.3,332.7L429.4,330.6L427.3,330.6Z" fill="none" stroke="#c3e3a0" stroke-width="0.8" stroke-linejoin="round" opacity="0.75"/>
<path d="M396.9,363.9L398.2,362.6L399.3,357.5L400.8,354.5L403.7,355.9L406.0,350.4L406.6,346.4L409.2,344.3L412.5,346.4L415.7,345.0L417.7,341.6L420.9,340.0L423.5,334.0L427.1,332.7L427.3,330.6L429.4,330.6L431.3,332.7L434.5,334.7L439.1,334.0L441.7,337.5L441.7,340.9L443.7,347.7L445.8,349.9L441.0,356.5L434.7,362.6L406.3,361.5L406.3,363.9Z M391.7,383.8L393.0,382.5L393.9,376.5L395.5,370.6L396.9,363.9L406.3,363.9L406.3,361.5L434.7,362.6L447.7,362.7L447.5,365.9L445.6,369.0L441.7,370.6L438.5,373.6L434.5,376.3L432.3,380.2L430.7,380.9L430.5,383.8L422.2,384.0L405.3,383.8Z M430.5,383.8L438.5,383.8L443.0,381.2L451.8,381.8L451.8,383.1L452.6,382.5L453.5,386.1L460.7,386.4L468.0,398.6L471.9,398.8L474.2,392.9L480.1,387.7L481.4,389.0L483.6,383.1L485.6,380.5L485.9,375.9L485.2,367.9L484.9,363.2L456.7,363.2L447.7,362.7L447.5,365.9L445.6,369.0L441.7,370.6L438.5,373.6L434.5,376.3L432.3,380.2L430.7,380.9L430.5,383.8Z M438.5,383.8L443.0,381.2L451.8,381.8L451.8,383.1L452.6,382.5L453.5,386.1L460.7,386.4L468.0,398.6L465.1,403.3L463.8,407.8L459.2,414.2L455.7,418.7L453.1,422.1L451.5,421.2L449.5,414.8L448.9,409.7L445.9,403.3L444.3,402.0L441.7,396.8L439.8,391.0L436.8,387.7L438.5,383.8Z M422.2,384.0L438.5,383.8L436.8,387.7L439.8,391.0L441.7,396.8L444.3,402.0L445.9,403.3L448.9,409.7L449.5,414.8L451.5,421.2L453.1,422.1L451.1,426.3L450.2,432.6L449.2,438.6L445.3,443.1L444.3,440.5L427.0,438.8L426.1,435.1L425.8,427.5L426.1,418.7L424.9,411.4Z M405.3,383.8L422.2,384.0L424.9,411.4L426.1,418.7L425.8,427.5L426.1,435.1L409.2,435.1L409.2,437.0L410.5,439.5L409.7,444.1L406.6,444.7L406.0,441.3L404.0,442.8L403.5,423.7L406.0,385.1Z M383.2,435.1L384.5,427.5L387.8,418.7L386.5,414.8L386.0,409.7L386.1,403.3L387.4,396.8L390.0,389.0L391.7,385.7L391.7,383.8L405.3,383.8L406.0,385.1L403.5,423.7L404.0,442.8L400.8,442.6L397.5,443.8L396.2,445.3L394.6,439.5L395.4,435.1Z M409.2,435.1L426.1,435.1L427.0,438.8L444.3,440.5L445.3,443.1L449.2,438.6L449.5,443.8L450.5,450.0L452.4,459.9L455.0,466.7L454.7,470.9L456.3,480.6L457.3,486.7L457.0,495.1L456.7,499.3L455.7,505.2L454.0,506.8L452.8,504.0L451.5,498.7L448.9,493.9L446.2,489.7L443.7,485.5L442.0,480.0L440.7,474.6L441.4,467.3L441.0,461.1L438.5,457.4L436.5,452.5L432.9,446.9L430.3,446.9L430.7,448.8L426.1,452.5L424.2,451.5L422.2,446.3L418.3,443.2L413.1,443.2L409.7,444.1L410.5,439.5L409.2,437.0Z" fill="none" stroke="#ffb54d" stroke-width="0.8" stroke-linejoin="round" opacity="0.65"/>
<path d="M460.2,287.5L460.2,283.6L464.8,277.3L465.8,274.4L464.8,268.9L471.6,267.4L478.1,268.8L481.4,265.5L483.3,264.0L483.3,258.1L482.3,256.6L485.9,251.3L489.2,245.3L492.9,243.0L501.8,243.0L501.5,250.6L501.3,258.1L502.5,264.0L502.3,276.6L500.9,286.8L501.0,298.8L499.4,300.4L499.8,301.8L498.2,304.7L497.3,306.1L498.2,301.8L493.1,296.7L490.6,290.8L488.8,287.5Z M497.3,307.2L499.2,307.2L504.1,305.5L508.0,303.3L511.5,300.8L508.7,300.7L506.7,302.3L503.5,302.5L499.6,304.0L498.1,305.0Z M455.2,306.9L455.2,287.8L460.2,283.6L460.2,287.5L488.8,287.5L490.6,290.8L493.1,296.7L490.3,302.3L489.8,306.1L492.7,313.2L490.5,317.4L488.5,318.8L487.2,318.4L486.0,319.9L455.2,319.9Z M493.1,296.7L490.3,302.3L489.8,306.1L492.7,313.2L490.5,317.4L488.5,318.8L487.5,323.0L489.2,325.7L491.8,327.8L491.4,330.9L495.0,324.4L497.0,318.8L497.6,313.2L497.6,309.4L496.0,308.9L497.3,306.1L498.2,301.8Z M486.0,319.9L487.2,318.4L488.5,318.8L487.5,323.0L488.5,328.5L490.5,332.7L490.8,337.5L486.6,337.4Z M462.0,319.9L486.0,319.9L486.6,337.4L490.8,337.5L489.5,343.2L486.9,344.3L485.6,340.9L483.6,334.0L484.0,329.9L484.9,324.4L484.0,322.3L481.4,327.1L480.7,331.3L480.7,338.2L481.7,343.0L482.3,344.3L478.4,340.2L476.2,337.5L477.8,332.7L476.5,330.2L474.9,327.1L473.4,325.5L472.6,321.6L469.0,321.6L465.1,323.7L462.0,327.1Z M434.7,362.6L441.0,356.5L445.8,349.9L447.7,354.5L450.6,354.0L452.8,353.2L456.7,350.0L458.6,344.3L460.9,335.7L463.2,337.9L465.9,333.1L469.3,324.4L472.7,328.1L473.4,325.5L474.9,327.1L476.5,330.2L477.8,332.7L476.2,337.5L478.4,340.2L482.3,344.3L482.0,349.8L482.0,355.9L484.3,358.1L484.9,363.2L456.7,363.2L447.7,362.7Z M484.9,355.2L486.9,344.3L489.5,343.2L487.2,350.4Z M441.7,337.5L444.3,335.4L444.3,331.3L447.2,328.5L448.9,325.1L452.1,322.3L453.1,319.5L454.7,312.5L454.4,307.8L455.2,306.9L455.2,319.9L462.0,319.9L462.0,327.1L465.1,323.7L469.0,321.6L472.6,321.6L473.4,325.5L473.4,325.5L472.7,328.1L469.3,324.4L465.9,333.1L463.2,337.9L460.9,335.7L458.6,344.3L456.7,350.0L452.8,353.2L450.6,354.0L447.7,354.5L445.8,349.9L443.7,347.7L441.7,340.9Z" fill="none" stroke="#5fb47f" stroke-width="0.8" stroke-linejoin="round" opacity="0.9"/>
<path d="M516.6,238.4L519.0,236.9L521.0,231.5L522.0,225.3L523.3,221.1L523.7,216.8L528.6,204.8L530.8,209.2L534.7,206.3L537.6,210.9L537.6,228.7L537.6,232.3L539.9,234.1L539.9,238.7L540.5,240.7L541.5,243.0L541.7,246.0L537.9,250.6L534.0,253.6L530.8,252.8L528.5,258.1L524.2,261.1L522.0,263.7L520.4,268.5L519.0,271.9L518.3,271.1L517.3,264.0L516.9,248.3Z M513.9,242.8L514.5,239.2L516.6,238.4L516.9,248.3L517.3,264.0L518.3,271.1L519.0,271.9L518.3,274.8L517.8,274.7L515.2,277.3L507.6,276.9L507.7,272.9L508.7,262.5L510.3,256.6L513.5,249.1Z M501.8,243.0L513.9,242.8L513.5,249.1L510.3,256.6L508.7,262.5L507.7,272.9L507.6,276.9L502.3,276.6L502.5,264.0L501.3,258.1L501.5,250.6Z M502.3,276.6L507.6,276.9L515.2,277.3L517.8,274.7L518.3,274.8L519.7,278.0L517.8,280.2L517.1,283.1L519.0,284.6L519.4,288.2L520.4,290.7L523.0,290.7L523.0,287.5L522.3,287.0L523.8,288.9L523.9,292.1L521.7,292.4L519.4,294.0L517.8,293.2L516.3,294.7L515.8,292.1L515.0,290.7L514.6,288.9L514.6,287.2L511.9,287.2L500.9,286.8Z M511.9,287.2L514.6,287.2L514.6,288.9L515.0,290.7L515.8,292.1L516.3,294.7L514.5,295.4L513.9,296.5L511.6,297.3Z M500.9,286.8L511.9,287.2L511.6,297.3L508.0,298.0L504.8,298.3L502.2,300.1L499.8,301.8L499.4,300.4L501.0,298.8Z" fill="none" stroke="#d2ae55" stroke-width="0.8" stroke-linejoin="round" opacity="0.9"/>
<!-- Alaska -->
<g>
  <path d="M77,114.8 L80.7,118.5 L89.4,121 L99.3,122.7 L104.2,126 L104.7,191.4 L104.8,193 L100.8,192.2 L96.5,188.6 L94.3,188.1 L93,191 L91.8,196 L88.8,195.6 L88.2,190.5 L89.6,185.3 L88.2,185.3 L86.2,189.7 L83.5,195 L81.3,199.4 L79.5,203 L77.6,207 L76.6,210.8 L74.3,210.4 L75.6,205.5 L73.8,202 L69.2,199.4 L65.9,195 L63,191.5 L63.5,189 L62.2,182.7 L64.7,177.8 L69.6,174 L69.6,166.7 L64,166 L59.8,164.2 L58.5,158 L62.2,153 L69.6,151.9 L64.7,147 L61,139.5 L63.5,133.3 L67.2,124.7 L72.1,119.8 Z" fill="#0a3d8b" stroke="#0a3d8b" stroke-width="1" stroke-linejoin="round"/>
  <path d="M76.6,210.8 L72.6,215 L65.3,221.6 L58,228.8 L48.3,235.3 L47.6,234.2 L57,227.4 L64,220.3 L71,213.6 L74.3,210.4 Z" fill="#8fa0c0" stroke="#8fa0c0" stroke-width="1" stroke-linejoin="round" opacity="0.8"/>
  <path d="M48,235 L40,236.8 L32.7,237 L27,234.5 L23.8,232" fill="none" stroke="#cdd2da" stroke-width="1.3" stroke-dasharray="2.5 2"/>
  <path d="M104.7,191.6 L106.6,192.6 L110.6,197 L114.6,201 L118.6,208.5 L123.4,217.3 L123,221 L121.8,222.2 L119.4,221 L117.2,217.5 L113.6,209.2 L110,201.6 L106.6,196.2 L104.7,194 Z" fill="#939dae" opacity="0.9"/>
  <ellipse cx="83.3" cy="208.3" rx="1.5" ry="3.8" fill="#8e9ab2" transform="rotate(18 83.3 208.3)"/>
  <ellipse cx="52.3" cy="172.8" rx="2.4" ry="1.5" fill="#9097a6" transform="rotate(25 52.3 172.8)"/>
  <ellipse cx="48.6" cy="191.4" rx="1.6" ry="1.6" fill="#d5d8de"/>
  <ellipse cx="59.8" cy="193.8" rx="1.6" ry="1.4" fill="#24468c"/>
</g>
<!-- Hawaii -->
<g fill="#dcdfe1" stroke="#dcdfe1" stroke-width="0.6" stroke-linejoin="round">
  <path d="M15.3,313.5 L16,308.5 L18.6,305 L19,308 L17.5,312 Z"/>
  <path d="M25,300 L27.5,296.5 L32,295.8 L35.2,298.5 L35.4,304 L33.5,309.5 L29.5,311 L26.2,307.5 Z"/>
  <path d="M56.8,320.5 L60.5,318.5 L62.5,320 L64.5,316.8 L66.5,320 L66.5,324.5 L69.8,328.5 L70.5,332.5 L66.5,333.5 L62.5,331.8 L60,327 L57.5,324.5 Z"/>
  <path d="M77.5,337 L80.5,335 L87.5,335.5 L91.5,338 L89.5,341 L84,341 L78.5,340.8 Z"/>
  <path d="M83.5,346.5 L86,344.5 L88.5,347.5 L88.3,352.5 L85.5,353.8 L83.8,350.5 Z"/>
  <path d="M91.5,345.5 L94,343 L96.8,345.5 L99,348.5 L103.5,346 L107,350.5 L106,356.5 L101.5,359.5 L97.5,357.5 L95.5,352.5 L92,350 Z"/>
  <path d="M91.5,359 L94,357.8 L95.5,360.2 L93.5,362.8 L91.3,361.8 Z"/>
  <path d="M108.2,371.5 L111,373.5 L113.5,379.5 L119.5,383 L124.5,387.5 L129.5,394 L131.8,401 L128.5,407 L122,411.5 L117.5,417 L114,422 L110.5,418.5 L108,410 L104.5,402 L103.8,394.5 L107,388.5 L108.8,381 Z"/>
</g>
<!-- Pacific specks -->
<g fill="#d9dcdf">
  <ellipse cx="78.4" cy="480.6" rx="0.9" ry="2.4"/>
  <ellipse cx="77.3" cy="575" rx="1.2" ry="4" transform="rotate(20 77.3 575)"/>
  <ellipse cx="68.3" cy="604.6" rx="1.1" ry="1.3"/>
</g>
<!-- Puerto Rico & VI -->
<g>
  <path d="M601.2,559.3 L602.5,552.5 L605,549.6 L612,550.5 L625,551.5 L640,552.8 L650,554 L656.9,556.9 L659.8,564 L657,572 L652,582.3 L640,584 L625,583.2 L612,583.8 L603.6,583.5 L602.5,572 Z" fill="#ffa21f" stroke="#ffa21f" stroke-width="1" stroke-linejoin="round"/>
  <path d="M663.5,574.5 L667,572.2 L671.8,572.5 L671,575 L666,575.8 Z" fill="#e2b661"/>
  <path d="M689.5,599.5 L693,597 L699.5,597.5 L698.5,600.5 L692.5,601.2 Z" fill="#d9a84a"/>
  <ellipse cx="686" cy="559.2" rx="2.6" ry="1" fill="#c9c9c9"/>
  <ellipse cx="692.5" cy="558.6" rx="1.3" ry="0.8" fill="#d5d5d5"/>
  <ellipse cx="575.8" cy="576" rx="0.9" ry="1.6" fill="#cfcfcf"/>
  <ellipse cx="673.5" cy="561.5" rx="0.9" ry="1.5" fill="#dddddd"/>
</g>

  </svg>
</div>
</div>
</body>
</html>
